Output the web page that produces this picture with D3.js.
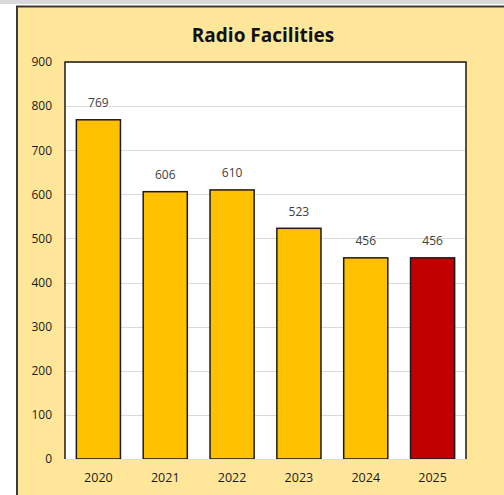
<!DOCTYPE html>
<html>
<head>
  <meta charset="utf-8">
  <title>Radio Facilities</title>
  <script src="https://cdnjs.cloudflare.com/ajax/libs/d3/7.8.5/d3.min.js"></script>
  <style>
    body { margin: 0; background: #fff; }
    text { font-family: "Open Sans", sans-serif; }
  </style>
</head>
<body>
<script>
var width = 504, height = 495;

var years  = ["2020", "2021", "2022", "2023", "2024", "2025"];
var values = [769, 606, 610, 523, 456, 456];
var yTicks = [0, 100, 200, 300, 400, 500, 600, 700, 800, 900];

var plot = { left: 65, right: 466, top: 62, bottom: 459 };
var font = "'Open Sans', sans-serif";

var svg = d3.select("body").append("svg")
  .attr("width", width).attr("height", height);

// strip at the top
svg.append("rect").attr("x", 0).attr("y", 0).attr("width", width).attr("height", 4)
  .attr("fill", "#d9d9d9");

// chart area
svg.append("rect")
  .attr("x", 17).attr("y", 6.5).attr("width", width).attr("height", height)
  .attr("fill", "#ffe699").attr("stroke", "#3a3a3a").attr("stroke-width", 2);

svg.append("text")
  .attr("x", 263).attr("y", 42)
  .attr("text-anchor", "middle")
  .attr("font-size", 19).attr("font-weight", "bold").attr("fill", "#111")
  .text("Radio Facilities");

var x = d3.scaleBand().domain(years)
  .range([plot.left, plot.right]).paddingInner(0.34).paddingOuter(0.17);
var y = d3.scaleLinear().domain([0, 900]).range([plot.bottom, plot.top]);

svg.append("rect")
  .attr("x", plot.left).attr("y", plot.top)
  .attr("width", plot.right - plot.left).attr("height", plot.bottom - plot.top)
  .attr("fill", "#fff");

// gridlines
svg.append("g").selectAll("line").data(yTicks.slice(1)).join("line")
  .attr("x1", plot.left).attr("x2", plot.right)
  .attr("y1", function(d) { return Math.round(y(d)) + 0.5; })
  .attr("y2", function(d) { return Math.round(y(d)) + 0.5; })
  .attr("stroke", "#d9d9d9").attr("stroke-width", 1);

// y labels
var yAxis = svg.append("g")
  .attr("transform", "translate(" + (plot.left - 13) + ",0)")
  .call(d3.axisLeft(y).tickValues(yTicks).tickSize(0).tickPadding(0));
yAxis.select(".domain").remove();
yAxis.selectAll("text").attr("font-size", 12).attr("fill", "#1a1a1a")
  .attr("font-family", font);

// x labels
var xAxis = svg.append("g")
  .attr("transform", "translate(0," + plot.bottom + ")")
  .call(d3.axisBottom(x).tickSize(0).tickPadding(14));
xAxis.select(".domain").remove();
xAxis.selectAll("text").attr("font-size", 12.5).attr("fill", "#1a1a1a")
  .attr("font-family", font);

// bars
svg.append("g").selectAll("rect").data(values).join("rect")
  .attr("x", function(d, i) { return x(years[i]); })
  .attr("y", function(d) { return y(d); })
  .attr("width", x.bandwidth())
  .attr("height", function(d) { return y(0) - y(d); })
  .attr("fill", function(d, i) { return i === years.length - 1 ? "#c00000" : "#ffc000"; })
  .attr("stroke", "#1a1a1a").attr("stroke-width", 1.5);

// value labels
svg.append("g").selectAll("text").data(values).join("text")
  .attr("x", function(d, i) { return x(years[i]) + x.bandwidth() / 2; })
  .attr("y", function(d) { return y(d) - 12.5; })
  .attr("text-anchor", "middle")
  .attr("font-size", 12).attr("fill", "#404040")
  .text(function(d) { return d; });

// axis line and plot frame
svg.append("line")
  .attr("x1", plot.left).attr("x2", plot.right)
  .attr("y1", plot.bottom + 0.5).attr("y2", plot.bottom + 0.5)
  .attr("stroke", "#d9d9d9");
svg.append("path")
  .attr("d", "M" + plot.left + "," + plot.bottom + "V" + plot.top + "H" + plot.right + "V" + plot.bottom)
  .attr("fill", "none").attr("stroke", "#1a1a1a").attr("stroke-width", 1.5);
</script>
</body>
</html>
